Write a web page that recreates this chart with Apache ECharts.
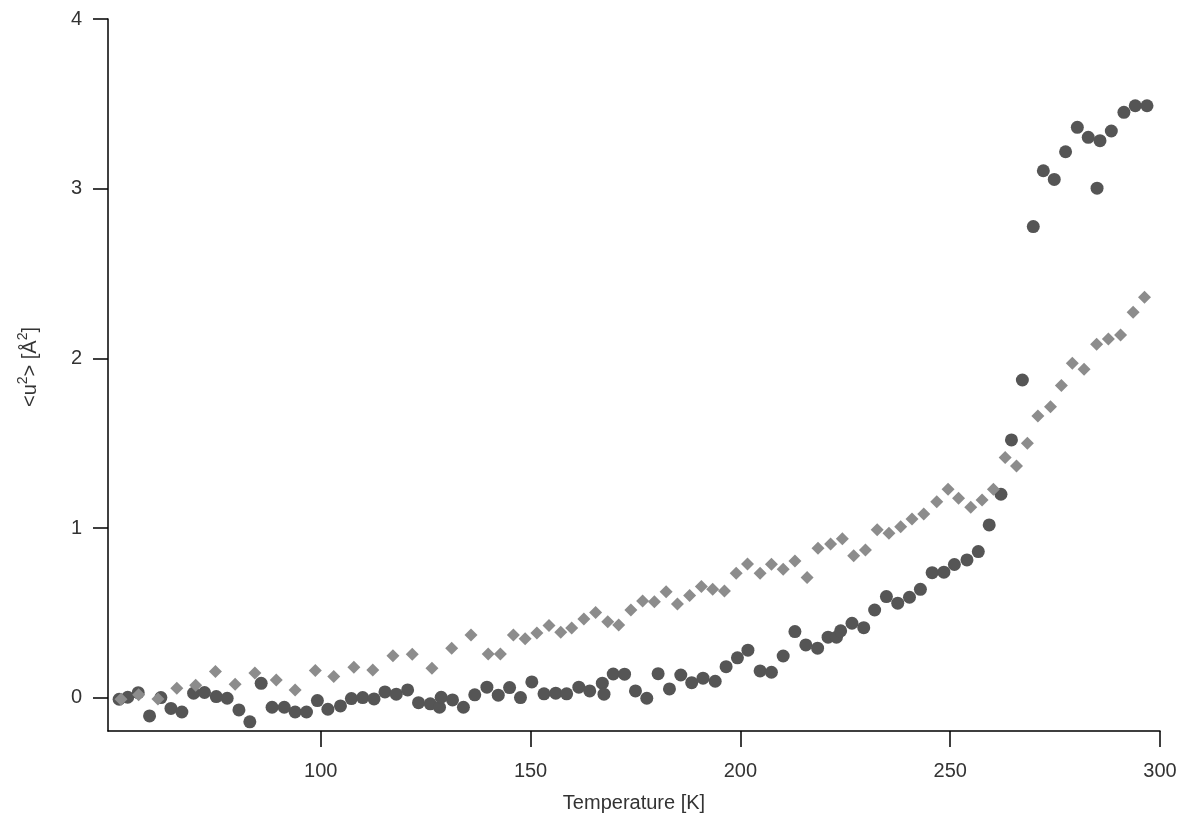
<!DOCTYPE html>
<html>
<head>
<meta charset="utf-8">
<script src="https://cdn.jsdelivr.net/npm/echarts@6/dist/echarts.min.js"></script>
<style>
html,body{margin:0;padding:0;background:#fff;}
#chart{width:1182px;height:818px;}
</style>
</head>
<body>
<div id="chart"></div>
<script>
// Dark circles: temperature [K]
const circleT = [51.95,54.0,56.5,59.2,61.9,64.3,66.9,69.7,72.3,75.1,77.7,80.5,83.1,85.8,88.4,91.3,93.9,96.6,99.2,101.7,
  104.7,107.3,110.0,112.7,115.3,118.0,120.7,123.3,126.1,128.3,128.7,131.4,134.0,136.7,139.6,142.3,145.0,147.6,150.3,
  153.2,156.0,158.6,161.5,164.1,167.1,167.5,169.7,172.4,175.0,177.7,180.4,183.1,185.8,188.4,191.1,194.0,196.6,199.3,
  201.8,204.7,207.4,210.2,213.0,215.6,218.4,220.9,222.9,223.9,226.6,229.4,232.0,234.8,237.5,240.3,242.9,245.7,248.5,
  251.0,254.0,256.7,259.3,262.1,264.6,267.2,269.8,272.2,274.8,277.5,280.3,282.9,285.0,285.7,288.4,291.4,294.1,296.9];
// Dark circles: <u^2> [Å^2]
const circleU = [-0.008,0.004,0.031,-0.106,0.002,-0.062,-0.083,0.028,0.032,0.008,-0.002,-0.071,-0.141,0.086,-0.055,-0.055,-0.083,-0.083,-0.016,-0.067,
  -0.047,-0.004,0.002,-0.006,0.035,0.022,0.047,-0.028,-0.035,-0.055,0.004,-0.012,-0.055,0.018,0.063,0.016,0.061,0.002,0.094,
  0.024,0.028,0.024,0.063,0.041,0.087,0.022,0.141,0.140,0.041,-0.002,0.143,0.053,0.135,0.090,0.116,0.098,0.184,0.236,
  0.281,0.159,0.151,0.247,0.391,0.312,0.293,0.358,0.358,0.395,0.440,0.414,0.518,0.597,0.558,0.593,0.640,0.738,0.741,
  0.786,0.813,0.862,1.019,1.200,1.520,1.873,2.777,3.106,3.055,3.218,3.362,3.303,3.003,3.283,3.340,3.450,3.489,3.489];

// Light diamonds: temperature [K]
const diamondT = [52.4,56.6,61.2,65.7,70.2,74.9,79.6,84.3,89.4,93.9,98.7,103.1,107.9,112.4,117.2,121.8,126.5,131.2,135.8,139.9,
  142.8,145.9,148.7,151.5,154.4,157.2,159.8,162.7,165.5,168.4,171.0,173.9,176.7,179.5,182.3,185.0,187.9,190.7,193.4,196.2,
  199.0,201.7,204.7,207.4,210.2,213.0,215.9,218.5,221.5,224.3,227.0,229.8,232.6,235.4,238.2,240.9,243.7,246.8,249.5,252.0,
  254.9,257.6,260.3,263.1,265.8,268.4,270.9,273.9,276.5,279.1,281.9,284.9,287.7,290.6,293.6,296.3];
// Light diamonds: <u^2> [Å^2]
const diamondU = [-0.008,0.018,-0.006,0.057,0.075,0.155,0.081,0.146,0.106,0.047,0.161,0.126,0.181,0.165,0.249,0.257,0.175,0.293,0.371,0.259,
  0.259,0.371,0.349,0.383,0.426,0.387,0.412,0.465,0.503,0.449,0.430,0.518,0.571,0.567,0.626,0.554,0.603,0.656,0.640,0.630,
  0.735,0.789,0.735,0.788,0.758,0.807,0.709,0.882,0.907,0.937,0.838,0.872,0.990,0.970,1.009,1.054,1.084,1.156,1.229,1.176,
  1.123,1.166,1.229,1.416,1.367,1.500,1.661,1.716,1.840,1.972,1.936,2.084,2.115,2.138,2.272,2.361];

const xTicks = [100,150,200,250,300];
const yTicks = [0,1,2,3,4];

const zip = (a,b) => a.map((v,i)=>[v,b[i]]);

const chart = echarts.init(document.getElementById('chart'), null, {renderer:'canvas'});
const textColor = '#333';
const font = '"Liberation Sans", Arial, sans-serif';
chart.setOption({
  animation:false,
  backgroundColor:'#fff',
  grid:{left:108,right:22,top:19,bottom:87,containLabel:false},
  xAxis:{
    type:'value', min:49.3, max:300,
    name:'Temperature [K]', nameLocation:'middle', nameGap:62,
    nameTextStyle:{color:textColor,fontSize:20,fontFamily:font},
    axisLine:{show:true,onZero:false,lineStyle:{color:'#000',width:1.5}},
    axisTick:{show:true,inside:false,length:16,customValues:xTicks,lineStyle:{color:'#000',width:1.5}},
    axisLabel:{color:textColor,fontSize:20,fontFamily:font,margin:30,customValues:xTicks},
    splitLine:{show:false}
  },
  yAxis:{
    type:'value', min:-0.195, max:4,
    name:'<u{sup|2}> [Å{sup|2}]', nameLocation:'middle', nameGap:64, nameRotate:90,
    nameTextStyle:{color:textColor,fontSize:20,fontFamily:font,padding:[0,0,0,16],
      rich:{sup:{fontSize:14,fontFamily:font,color:textColor,verticalAlign:'top',padding:[0,0,14,0]}}},
    axisLine:{show:true,onZero:false,lineStyle:{color:'#000',width:1.5}},
    axisTick:{show:true,inside:false,length:15,customValues:yTicks,lineStyle:{color:'#000',width:1.5}},
    axisLabel:{color:textColor,fontSize:20,fontFamily:font,margin:26,customValues:yTicks},
    splitLine:{show:false}
  },
  series:[
    {type:'scatter',name:'circles',symbol:'circle',symbolSize:13,
     itemStyle:{color:'#555555',opacity:1},data:zip(circleT,circleU)},
    {type:'scatter',name:'diamonds',symbol:'diamond',symbolSize:13,
     itemStyle:{color:'#8c8c8c',opacity:1},data:zip(diamondT,diamondU)}
  ]
});
</script>
</body>
</html>
